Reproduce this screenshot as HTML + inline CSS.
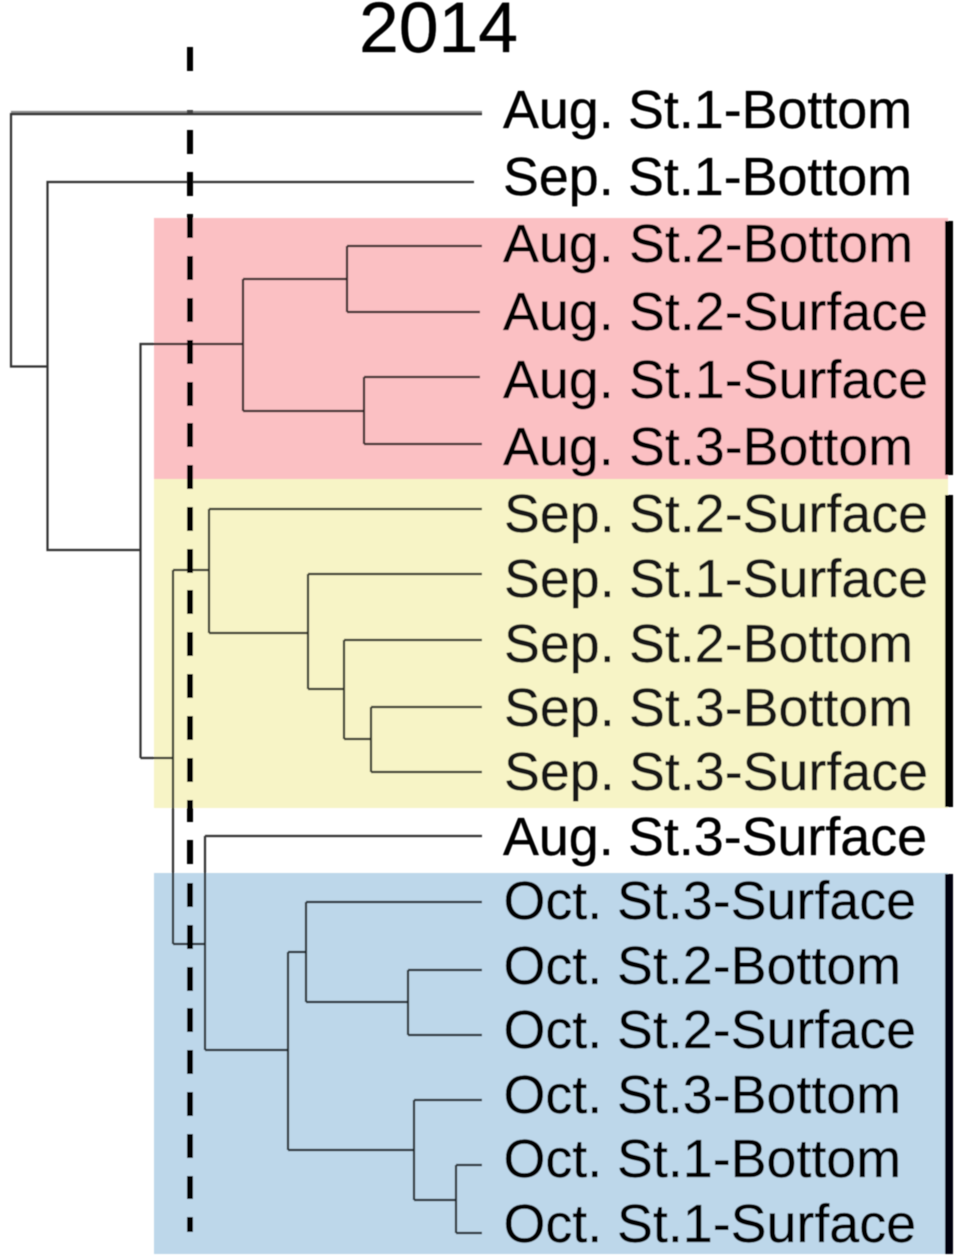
<!DOCTYPE html>
<html>
<head>
<meta charset="utf-8">
<style>
html,body{margin:0;padding:0;background:#fff;width:955px;height:1256px;overflow:hidden}
svg{display:block}
text{font-family:"Liberation Sans",sans-serif;font-size:53.8px;fill:#000;stroke:#000;stroke-width:.35px;text-rendering:geometricPrecision}
.p{mix-blend-mode:multiply}
</style>
</head>
<body>
<svg width="955" height="1256" viewBox="0 0 955 1256" xmlns="http://www.w3.org/2000/svg">
<defs><filter id="b" x="-2%" y="-2%" width="104%" height="104%"><feGaussianBlur stdDeviation="0.45"/></filter></defs>
<rect width="955" height="1256" fill="#fff"/>
<g filter="url(#b)">
<text x="359" y="52" style="font-size:71.5px">2014</text>

<g fill="none" stroke="#8e8e8e" stroke-width="4.2"><path d="M11 113H482"/></g>
<g fill="none" stroke="#303333" stroke-width="2.2">
<path d="M11 114H482M11 113V366.5H47"/>
<path d="M474 182H47.5V550H140.5"/>
<path d="M140.5 758V344H243"/>
<path d="M243 279V411M243 279H347M347 246V312M482 246H347M480 312H347"/>
<path d="M243 411H364M364 377V444M480 377H364M482 444H364"/>
<path d="M140.5 758H173M173 570V944"/>
<path d="M173 570H209M209 509V633M482 509H209M209 633H308M308 574V689M482 574H308"/>
<path d="M308 689H344M344 640V739M482 640H344M344 739H371M371 707V772M482 707H371M482 772H371"/>
<path d="M173 944H205M205 836V1050M482 836H205M205 1050H288M288 952V1150"/>
<path d="M288 952H306M306 902V1002M482 902H306M306 1002H408M408 970V1035M482 970H408M482 1035H408"/>
<path d="M288 1150H414M414 1100V1200M482 1100H414M414 1200H456M456 1165V1233M482 1165H456M482 1233H456"/>
</g>

<g fill="#000">
<rect x="187" y="47" width="6" height="24"/>
<rect x="187" y="110" width="6" height="3" fill="#444"/>
<rect x="187" y="130" width="6" height="24"/>
<rect x="187" y="172" width="6" height="24"/>
<rect x="187" y="214" width="6" height="24"/>
<rect x="187" y="256" width="6" height="24"/>
<rect x="187" y="298" width="6" height="24"/>
<rect x="187" y="340" width="6" height="24"/>
<rect x="187" y="382" width="6" height="24"/>
<rect x="187" y="423" width="6" height="24"/>
<rect x="187" y="465" width="6" height="24"/>
<rect x="187" y="507" width="6" height="24"/>
<rect x="187" y="549" width="6" height="24"/>
<rect x="187" y="590" width="6" height="24"/>
<rect x="187" y="632" width="6" height="24"/>
<rect x="187" y="674" width="6" height="24"/>
<rect x="187" y="716" width="6" height="24"/>
<rect x="187" y="758" width="6" height="24"/>
<rect x="187" y="800" width="6" height="22"/>
<rect x="187" y="840" width="6" height="24"/>
<rect x="187" y="883" width="6" height="24"/>
<rect x="187" y="925" width="6" height="24"/>
<rect x="187" y="967" width="6" height="24"/>
<rect x="187" y="1008" width="6" height="24"/>
<rect x="187" y="1050" width="6" height="24"/>
<rect x="187" y="1092" width="6" height="24"/>
<rect x="187" y="1134" width="6" height="24"/>
<rect x="187" y="1176" width="6" height="23"/>
<rect x="187" y="1217" width="6" height="15"/>
</g>

<text y="128"><tspan x="503">Aug.</tspan> <tspan x="628">St.1-Bottom</tspan></text>
<text y="195"><tspan x="503">Sep.</tspan> <tspan x="628">St.1-Bottom</tspan></text>
<text y="262"><tspan x="503">Aug.</tspan> <tspan x="629">St.2-Bottom</tspan></text>
<text y="330"><tspan x="503">Aug.</tspan> <tspan x="629">St.2-Surface</tspan></text>
<text y="398"><tspan x="503">Aug.</tspan> <tspan x="629">St.1-Surface</tspan></text>
<text y="465"><tspan x="503">Aug.</tspan> <tspan x="629">St.3-Bottom</tspan></text>
<g style="opacity:.9">
<text y="532"><tspan x="504">Sep.</tspan> <tspan x="629">St.2-Surface</tspan></text>
<text y="597"><tspan x="504">Sep.</tspan> <tspan x="629">St.1-Surface</tspan></text>
<text y="662"><tspan x="504">Sep.</tspan> <tspan x="629">St.2-Bottom</tspan></text>
<text y="726"><tspan x="504">Sep.</tspan> <tspan x="629">St.3-Bottom</tspan></text>
<text y="790"><tspan x="504">Sep.</tspan> <tspan x="629">St.3-Surface</tspan></text>
</g>
<text y="855"><tspan x="503">Aug.</tspan> <tspan x="628">St.3-Surface</tspan></text>
<text y="919"><tspan x="503.5">Oct.</tspan> <tspan x="617">St.3-Surface</tspan></text>
<text y="984"><tspan x="503.5">Oct.</tspan> <tspan x="617">St.2-Bottom</tspan></text>
<text y="1048"><tspan x="503.5">Oct.</tspan> <tspan x="617">St.2-Surface</tspan></text>
<text y="1113"><tspan x="503.5">Oct.</tspan> <tspan x="617">St.3-Bottom</tspan></text>
<text y="1177"><tspan x="503.5">Oct.</tspan> <tspan x="617">St.1-Bottom</tspan></text>
<text y="1242"><tspan x="503.5">Oct.</tspan> <tspan x="617">St.1-Surface</tspan></text>

<rect class="p" x="154" y="218" width="794" height="261" fill="#fbc0c3"/>
<rect class="p" x="154" y="479" width="794" height="329" fill="#f7f4c6"/>
<rect class="p" x="154" y="873" width="794" height="381" fill="#bdd7ea"/>

<rect x="945" y="221" width="8" height="254" fill="#000"/>
<rect x="945" y="495" width="8" height="312" fill="#000"/>
<rect x="945" y="874" width="8" height="380" fill="#000010"/>
</g>
</svg>
</body>
</html>
